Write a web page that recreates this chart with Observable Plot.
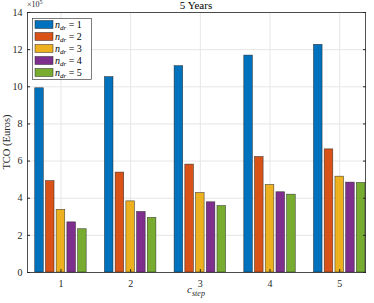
<!DOCTYPE html>
<html><head><meta charset="utf-8">
<script src="https://cdn.jsdelivr.net/npm/d3@7"></script>
<script src="https://cdn.jsdelivr.net/npm/@observablehq/plot@0.6"></script>
<style>
body{margin:0;background:#fff;}
#wrap{position:relative;width:374px;height:303px;}
svg text{font-family:"Liberation Serif",serif;}
</style>
</head><body><div id="wrap"></div>
<script>
// ---- data (values in units of 10^5 Euros) ----
const cSteps = [1, 2, 3, 4, 5];
const seriesNames = ["1", "2", "3", "4", "5"];
const nDr1 = [9.92, 10.52, 11.11, 11.68, 12.26];
const nDr2 = [4.92, 5.38, 5.81, 6.22, 6.63];
const nDr3 = [3.37, 3.83, 4.28, 4.71, 5.16];
const nDr4 = [2.70, 3.26, 3.78, 4.32, 4.84];
const nDr5 = [2.33, 2.94, 3.58, 4.19, 4.82];
const colors = ["#0072BD", "#D95319", "#EDB120", "#7E2F8E", "#77AC30"];
const yTicks = [0, 2, 4, 6, 8, 10, 12, 14];
const titleText = "5 Years";
const yLabelText = "TCO (Euros)";

const series = [nDr1, nDr2, nDr3, nDr4, nDr5];
const rows = [];
series.forEach((vals, s) => vals.forEach((v, i) => rows.push({c: cSteps[i], s, v})));
const groupW = Math.min(0.8, 5 / (5 + 1.5));
const pitch = groupW / 5, bw = pitch * 0.8;

const plot = Plot.plot({
  width: 374, height: 303,
  marginLeft: 27, marginRight: 9, marginTop: 12, marginBottom: 31,
  style: {fontFamily: "Liberation Serif", fontSize: "10px", background: "white", color: "#262626"},
  x: {type: "linear", domain: [0.52, 5.37]},
  y: {domain: [0, 14]},
  color: {type: "ordinal", domain: [0, 1, 2, 3, 4], range: colors},
  marks: [
    Plot.gridX(cSteps, {stroke: "#e6e6e6", strokeOpacity: 1}),
    Plot.gridY(yTicks, {stroke: "#e6e6e6", strokeOpacity: 1}),
    Plot.rect(rows, {
      x1: d => d.c + (d.s - 2) * pitch - bw / 2,
      x2: d => d.c + (d.s - 2) * pitch + bw / 2,
      y1: 0, y2: "v", fill: "s", stroke: "#222", strokeWidth: 0.6, strokeOpacity: 0.8
    }),
    Plot.axisY(yTicks, {anchor: "left", tickSize: -3, tickPadding: 8, label: null, stroke: "#262626", fontSize: 10}),
    Plot.axisY(yTicks, {anchor: "right", tickSize: -3, text: null, label: null, stroke: "#262626"}),
    Plot.axisX(cSteps, {anchor: "bottom", tickSize: -3, tickPadding: 10, label: null, stroke: "#262626", fontSize: 10}),
    Plot.frame({stroke: "#262626", strokeWidth: 0.8})
  ]
});
document.getElementById("wrap").appendChild(plot);

const svg = d3.select(plot);
const font = "Liberation Serif";
// title
svg.append("text").attr("x", 196).attr("y", 9).attr("text-anchor", "middle")
  .attr("font-size", 11).attr("fill", "#000").attr("font-family", font).text(titleText);
// exponent
const ex = svg.append("text").attr("x", 27).attr("y", 7).attr("font-size", 8).attr("text-anchor", "start")
  .attr("fill", "#262626").attr("font-family", font);
ex.append("tspan").text("\u00d710");
ex.append("tspan").attr("dy", -3).attr("font-size", 6).text("5");
// y label
svg.append("text").attr("transform", "translate(10,142) rotate(-90)").attr("text-anchor", "middle")
  .attr("font-size", 10.5).attr("fill", "#262626").attr("font-family", font).text(yLabelText);
// x label
const xl = svg.append("text").attr("x", 196).attr("y", 293).attr("text-anchor", "middle")
  .attr("font-size", 11).attr("fill", "#262626").attr("font-family", font);
xl.append("tspan").attr("font-style", "italic").text("c");
xl.append("tspan").attr("font-style", "italic").attr("font-size", 8).attr("dy", 2.5).text("step");

// legend
const lg = svg.append("g").attr("text-anchor", "start");
lg.append("rect").attr("x", 32.5).attr("y", 18.5).attr("width", 59).attr("height", 61)
  .attr("fill", "white").attr("stroke", "#262626").attr("stroke-width", 0.6);
seriesNames.forEach((name, i) => {
  const cy = 24.5 + i * 12;
  lg.append("rect").attr("x", 35).attr("y", cy - 4).attr("width", 18).attr("height", 8)
    .attr("fill", colors[i]).attr("stroke", "#222").attr("stroke-width", 0.6).attr("stroke-opacity", 0.8);
  const t = lg.append("text").attr("x", 55).attr("y", cy + 3).attr("font-size", 10).attr("text-anchor", "start")
    .attr("fill", "#000").attr("font-family", font);
  t.append("tspan").attr("font-style", "italic").text("n");
  t.append("tspan").attr("font-style", "italic").attr("font-size", 7).attr("dy", 2).text("dr");
  t.append("tspan").attr("dy", -2).text(" = " + name);
});
</script>
</body></html>
